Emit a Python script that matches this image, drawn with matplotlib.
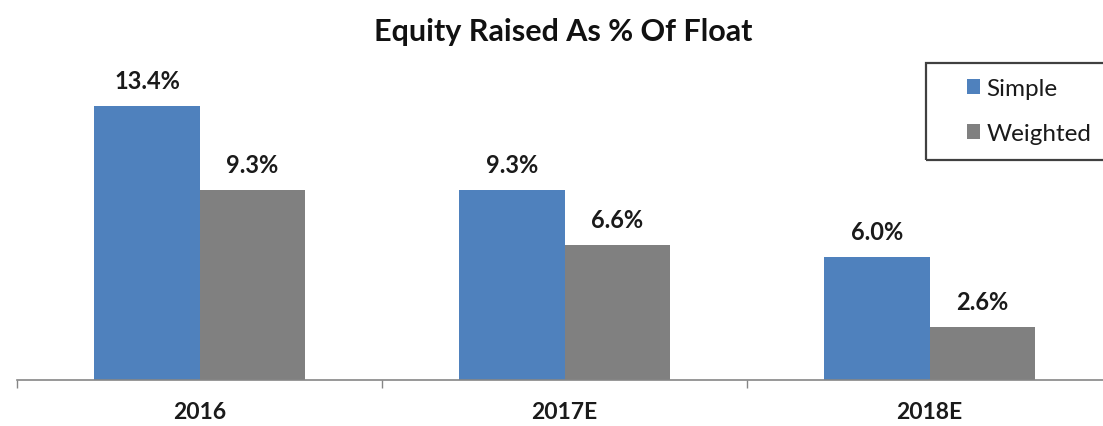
import numpy as np
import matplotlib.pyplot as plt
from matplotlib.patches import Rectangle

years = ["2016", "2017E", "2018E"]
simple = [13.4, 9.3, 6.0]
weighted = [9.3, 6.6, 2.6]

blue = "#4f81bd"
grey = "#808080"

plt.rcParams['font.family'] = ['Lato', 'DejaVu Sans']

fig = plt.figure(figsize=(11.03, 4.27), dpi=100)
# axes runs past the right edge, the original picture is cropped there
ax = fig.add_axes([17 / 1103, 46 / 427, 1095 / 1103, 327 / 427])

x = np.arange(len(years))
w = 0.288
b1 = ax.bar(x - w / 2, simple, w, color=blue, label="Simple")
b2 = ax.bar(x + w / 2, weighted, w, color=grey, label="Weighted")

for bars, vals in [(b1, simple), (b2, weighted)]:
    for bar, v in zip(bars, vals):
        ax.annotate(f"{v:.1f}%", (bar.get_x() + bar.get_width() / 2, v),
                    xytext=(0, 10), textcoords="offset points",
                    ha="center", va="bottom", fontsize=17, fontweight="bold",
                    color="#1a1a1a")

ax.set_xlim(-0.5, 2.5)
ax.set_ylim(0, 16)
for s in ["top", "right", "left"]:
    ax.spines[s].set_visible(False)
ax.spines["bottom"].set_color("#868686")
ax.spines["bottom"].set_linewidth(1.2)
ax.set_yticks([])
ax.set_xticks([-0.5, 0.5, 1.5, 2.5])
ax.set_xticklabels([])
ax.tick_params(axis="x", length=6, color="#868686", width=1)
ax.set_xticks(x, minor=True)
ax.set_xticklabels(years, minor=True, fontsize=16.5, fontweight="bold", color="#1a1a1a")
ax.tick_params(axis="x", which="minor", length=0, pad=15)

fig.text(563 / 1103, 1 - 32 / 427, "Equity Raised As % Of Float",
         ha="center", va="center", fontsize=22, fontweight="bold", color="#111111")

# legend box, right side cut off like the reference
fig.patches.append(Rectangle((926 / 1103, 1 - 161 / 427), 200 / 1103, 97 / 427,
                             transform=fig.transFigure, fill=False,
                             edgecolor="#404040", linewidth=1.6))
fig.legend(handles=[b1, b2], loc="center left",
           bbox_to_anchor=(945 / 1103, 1 - 112 / 427), frameon=False,
           fontsize=17.5, handlelength=0.55, handleheight=0.55, handletextpad=0.25,
           labelspacing=1.0, labelcolor="#1a1a1a")

plt.savefig("out.png", dpi=100)
